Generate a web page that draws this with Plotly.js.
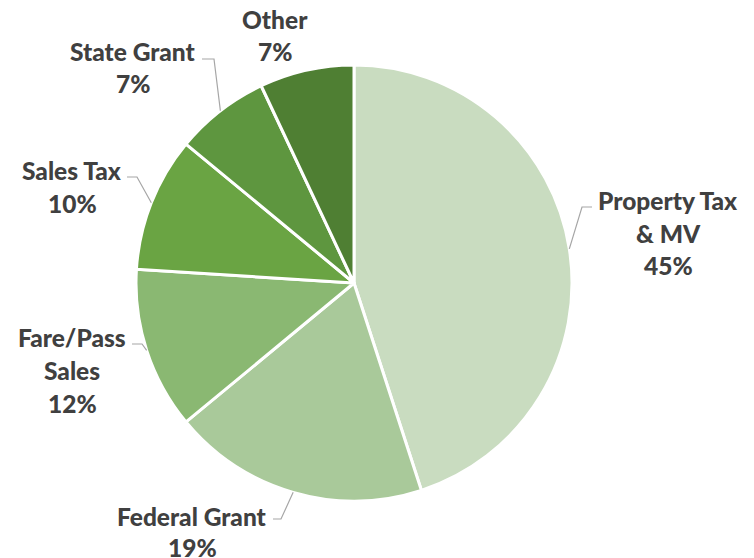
<!DOCTYPE html>
<html><head><meta charset="utf-8">
<script src="https://cdn.plot.ly/plotly-3.0.1.min.js"></script>
<style>html,body{margin:0;padding:0;background:#fff}#chart{width:754px;height:558px}</style>
</head><body><div id="chart"></div>
<script>
// ---- data ----
const categories = ['Property Tax & MV', 'Federal Grant', 'Fare/Pass Sales', 'Sales Tax', 'State Grant', 'Other'];
const shares = [45, 19, 12, 10, 7, 7];
const labelNameLines = [['Property Tax', '& MV'], ['Federal Grant'], ['Fare/Pass', 'Sales'], ['Sales Tax'], ['State Grant'], ['Other']];
const sliceColors = ['#C9DCC0', '#A9C99A', '#8AB872', '#6AA443', '#5E963F', '#4F7F33'];

// ---- layout (pixels) ----
const W = 754, H = 558;
const CX = 354, CY = 283, R = 218;
const labelLayout = [
  {cx: 668, y0: 200, gap: 33, elbow: [582, 207], end: [592, 207]},
  {cx: 192, y0: 516, gap: 31, elbow: [281, 519], end: [273, 519]},
  {cx: 72,  y0: 337, gap: 33, elbow: [142, 344], end: [132, 344]},
  {cx: 72,  y0: 170, gap: 33, elbow: [137, 177], end: [127, 177]},
  {cx: 133, y0: 51,  gap: 33, elbow: [214, 59],  end: [202, 59]},
  {cx: 275, y0: 19,  gap: 33, elbow: null, end: null}
];
const px = x => x / W, py = y => 1 - y / H;

const total = shares.reduce((a, b) => a + b, 0);
const annotations = [], shapes = [];
let cum = 0;
shares.forEach((v, i) => {
  const mid = (cum + v / 2) / total * 2 * Math.PI;
  cum += v;
  const lines = labelNameLines[i].concat([v + '%']);
  const L = labelLayout[i];
  lines.forEach((t, k) => {
    annotations.push({
      text: t, showarrow: false, xref: 'paper', yref: 'paper',
      x: px(L.cx), y: py(L.y0 + k * L.gap), xanchor: 'center', yanchor: 'middle',
      font: {family: 'Lato, sans-serif', size: 24.5, color: '#404040', weight: 900}
    });
  });
  if (L.elbow) {
    const ex = CX + R * Math.sin(mid), ey = CY - R * Math.cos(mid);
    shapes.push({
      type: 'path', xref: 'paper', yref: 'paper',
      path: `M ${px(ex)},${py(ey)} L ${px(L.elbow[0])},${py(L.elbow[1])} L ${px(L.end[0])},${py(L.end[1])}`,
      line: {color: '#A6A6A6', width: 1.2}
    });
  }
});

const trace = {
  type: 'pie', labels: categories, values: shares, sort: false, direction: 'clockwise', rotation: 0,
  textinfo: 'none', hoverinfo: 'label+percent',
  marker: {colors: sliceColors, line: {color: '#FFFFFF', width: 3}},
  domain: {x: [(CX - R) / W, (CX + R) / W], y: [1 - (CY + R) / H, 1 - (CY - R) / H]},
  showlegend: false, automargin: false
};

Plotly.newPlot('chart', [trace], {
  width: W, height: H, margin: {l: 0, r: 0, t: 0, b: 0},
  paper_bgcolor: '#fff', showlegend: false, annotations, shapes
}, {displayModeBar: false, staticPlot: true});
</script></body></html>
